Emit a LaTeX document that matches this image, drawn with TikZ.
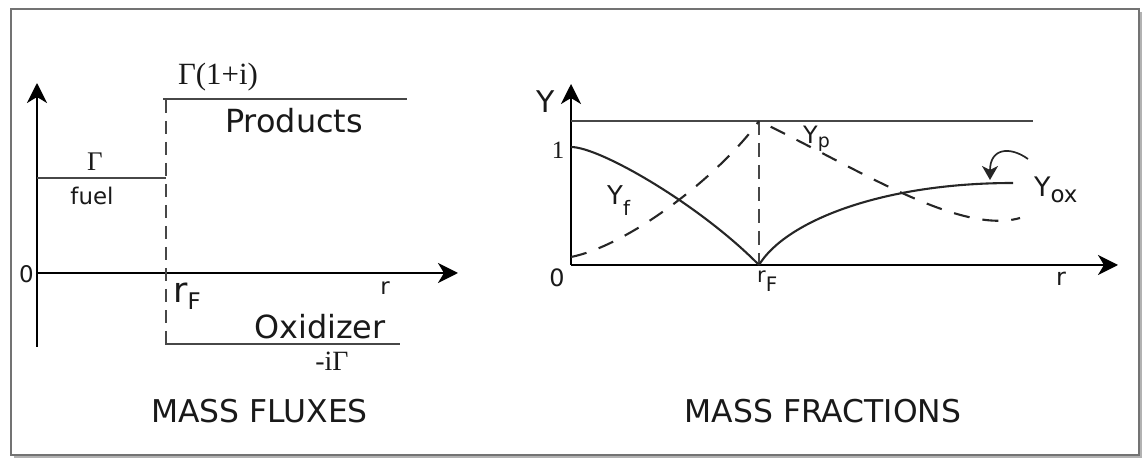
\documentclass[tikz,border=0pt]{standalone}
\usepackage{fontspec}
\setmainfont{DejaVu Sans}
\newfontfamily\serifG{Liberation Serif}
\usetikzlibrary{arrows.meta}
\newcommand\myfs[1]{\fontsize{#1}{#1}\selectfont}
\begin{document}
\begin{tikzpicture}[x=1bp,y=-1bp,
  axis/.style={line width=2.4bp, black, -{Stealth[length=20bp,width=20bp,inset=6bp]}},
  ln/.style={line width=2.4bp, black!72},
  crv/.style={line width=2.1bp, black!85},
  dsh/.style={dash pattern=on 13bp off 8bp},
  dshc/.style={dash pattern=on 16bp off 13bp},
  lab/.style={inner sep=0pt, text=black!90}]
\useasboundingbox (0,0) rectangle (1144,458);
% frame
\draw[black!55, line width=2.2bp] (11,9) rectangle (1139,455);
\draw[black!30, line width=2bp] (1141,12) -- (1141,457) -- (14,457);

% ---------------- left panel: mass fluxes
\coordinate (L0) at (37,273);
\coordinate (Ltop) at (37,83);
\coordinate (Lbot) at (37,347);
\coordinate (Lright) at (458,273);
\draw[axis] (Lbot) -- (Ltop);
\draw[axis] (L0) -- (Lright);
\coordinate (fuelA) at (37,178);
\coordinate (fuelB) at (166,178);
\draw[ln] (fuelA) -- (fuelB);
\coordinate (prodA) at (163,99);
\coordinate (prodB) at (407,99);
\draw[ln] (prodA) -- (prodB);
\coordinate (dA) at (166,100);
\coordinate (dB) at (166,331);
\draw[ln, dsh] (dA) -- (dB);
\coordinate (oxA) at (166,331);
\coordinate (oxC) at (166,344);
\coordinate (oxB) at (400,344);
\draw[ln] (oxA) -- (oxC) -- (oxB);

\node[lab, font={\serifG\myfs{31}}] (G1i) at (218,77) {Γ(1+i)};
\node[lab, font=\myfs{32}] (prod) at (294,121) {Products};
\node[lab, font={\serifG\myfs{27}}] (Gam) at (95,161.5) {Γ};
\node[lab, font=\myfs{23}] (fuel) at (92,196) {fuel};
\node[lab, font=\myfs{23}] (zeroL) at (26.5,274) {0};
\node[lab, font=\myfs{23}] (rL) at (385,288) {r};
\node[lab, anchor=base west] (rFL) at (173,303) {{\myfs{35}r}\raisebox{-7bp}{\myfs{23}F}};
\node[lab, font=\myfs{32}] (oxi) at (320,327) {Oxidizer};
\node[lab, font={\serifG\myfs{28}}] (miG) at (332,361) {-iΓ};
\node[lab, font=\myfs{31.5}] (MFL) at (259.5,411) {MASS FLUXES};

% ---------------- right panel: mass fractions
\coordinate (O) at (571,265);
\coordinate (Rtop) at (571,84);
\coordinate (Rright) at (1118,265);
\draw[axis] (O) -- (Rtop);
\draw[axis] (O) -- (Rright);
\coordinate (topA) at (571,121);
\coordinate (topB) at (1033,121);
\draw[ln] (topA) -- (topB);
\coordinate (rF) at (759,265);
\coordinate (peak) at (759,121);
\draw[ln, dash pattern=on 14bp off 8bp] (peak) -- (rF);
% Y_f
\draw[crv] (571,147) .. controls (600,147) and (700,205) .. (rF);
% Y_ox
\coordinate (oxend) at (1013,183);
\draw[crv] (rF) .. controls (785,222) and (880,183) .. (oxend);
% Y_p
\draw[crv, dshc] (571,257) .. controls (630,245) and (720,175) .. (peak);
\draw[crv, dshc, dash phase=16bp] (peak) .. controls (860,170) and (960,235) .. (1020,218);
% pointer arrow
\coordinate (pA) at (1028,159);
\coordinate (pB) at (990,180);
\draw[line width=1.7bp, black!85, -{Stealth[length=14bp,width=16bp,inset=4bp]}]
  (pA) .. controls (1010,146) and (990,148) .. (pB);

\node[lab, font=\myfs{30}] (Ylab) at (546,102) {Y};
\node[lab, font={\serifG\myfs{25}}] (one) at (558,150) {1};
\node[lab, font=\myfs{24}] (zeroR) at (557,278) {0};
\node[lab, anchor=base west] (rFR) at (757,283) {{\myfs{21}r}\raisebox{-9bp}{\myfs{20}F}};
\node[lab, font=\myfs{24}] (rR) at (1061,279) {r};
\node[lab, anchor=base west] (Yf) at (607,205) {{\myfs{26}Y}\raisebox{-11bp}{\myfs{20}f}};
\node[lab, anchor=base west] (Yp) at (803,144) {{\myfs{24}Y}\raisebox{-4bp}{\myfs{19}p}};
\node[lab, anchor=base west] (Yox) at (1034,197) {{\myfs{27}Y}\raisebox{-6bp}{\myfs{23}ox}};
\node[lab, font=\myfs{31.5}] (MFR) at (823,411.5) {MASS FRACTIONS};
\end{tikzpicture}
\end{document}
